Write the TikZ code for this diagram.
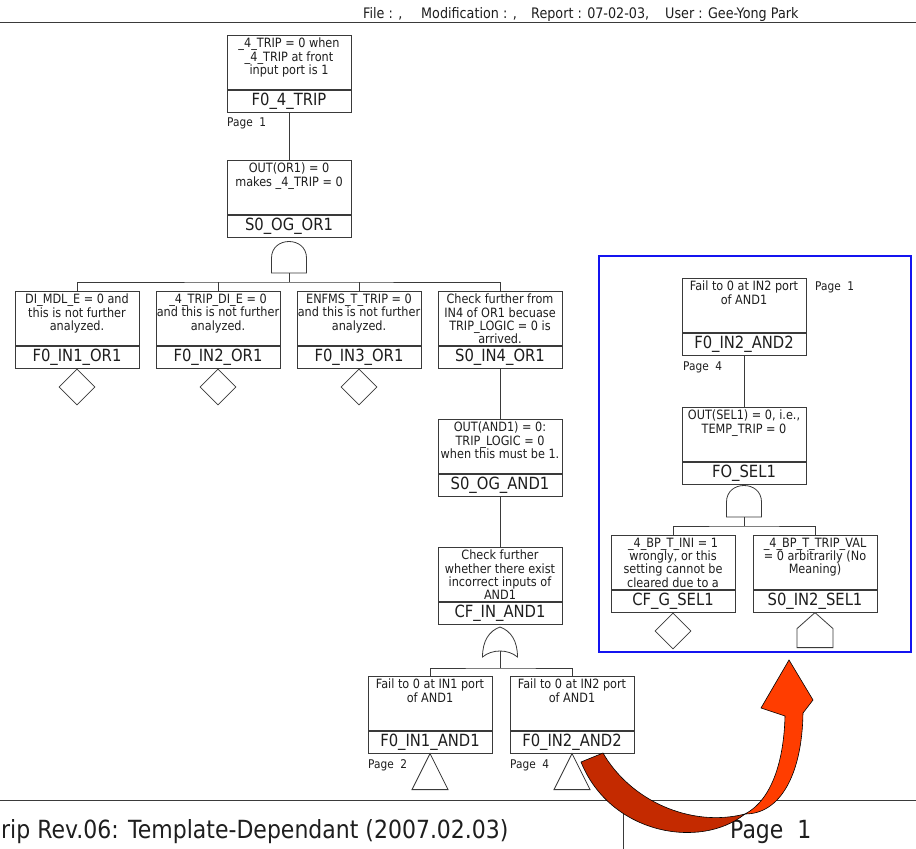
\documentclass[tikz,border=0pt]{standalone}
\usepackage{fontspec}
\setmainfont{DejaVu Sans}[FakeStretch=0.88]
\usetikzlibrary{shapes.geometric}

\definecolor{ink}{HTML}{1E1E1E}
\definecolor{rulegray}{HTML}{3A3A3A}
\definecolor{panelblue}{HTML}{1414F0}
\definecolor{arrowdark}{HTML}{C42A00}
\definecolor{arrowlight}{HTML}{FF3D00}

\tikzset{
  desc/.style={anchor=north, align=center, inner sep=0pt, text=ink,
    font=\fontsize{12.8}{13.2}\selectfont},
  descframe/.style={anchor=north, draw=rulegray, line width=0.8pt,
    minimum width=124pt, minimum height=54pt, inner sep=0pt},
  idband/.style={anchor=north, draw=rulegray, line width=0.8pt, fill=white,
    minimum width=124pt, minimum height=22pt, inner sep=0pt, text=ink,
    font=\fontsize{16.8}{17}\selectfont},
  pagelbl/.style={anchor=west, inner sep=0pt, text=ink,
    font=\fontsize{12}{14}\selectfont},
  wire/.style={draw=rulegray, line width=0.8pt},
  gate/.style={draw=rulegray, line width=0.8pt, fill=white},
  undev/.style={diamond, draw=rulegray, line width=0.8pt, fill=white,
    minimum width=36pt, minimum height=36pt, inner sep=0pt, anchor=north},
  headtxt/.style={anchor=base west, inner sep=0pt, text=ink,
    font=\fontsize{14.5}{16}\selectfont},
  foottxt/.style={anchor=base west, inner sep=0pt, text=ink,
    font=\fontsize{25}{27}\selectfont},
}

% fault-tree event box: name, centre x, top y, description, identifier
\newcommand\faultbox[5]{%
  \node[desc] (#1-txt) at (#2,#3+3) {#4};
  \node[descframe] (#1) at (#2,#3) {};
  \node[idband] (#1-id) at (#1.south) {#5};
}

% AND gate: centre x, top y, bottom y
\newcommand\andgate[4]{%
  \draw[gate] (#2-17.5,#4) -- (#2-17.5,#3+17)
    .. controls (#2-17.5,#3-5) and (#2+17.5,#3-5) .. (#2+17.5,#3+17)
    -- (#2+17.5,#4) -- cycle;
  \coordinate (#1-out) at (#2,#4);
}

% OR gate: centre x, tip y, bottom y
\newcommand\orgate[4]{%
  \draw[gate] (#2-17.5,#4)
    .. controls (#2-17.5,#3+14) and (#2-11,#3+4) .. (#2,#3)
    .. controls (#2+11,#3+4) and (#2+17.5,#3+14) .. (#2+17.5,#4)
    .. controls (#2+8,#4-8) and (#2-8,#4-8) .. cycle;
  \coordinate (#1-out) at (#2,#4-6);
}

\begin{document}
\begin{tikzpicture}[x=1pt,y=-1pt]
\useasboundingbox (0,0) rectangle (916,849);
\fill[white] (0,0) rectangle (916,849);

% page header
\node[headtxt] (hfile) at (363,18) {File : ,};
\node[headtxt] (hmod) at (421,18) {Modification : ,};
\node[headtxt] (hrep) at (531,18) {Report : 07-02-03,};
\node[headtxt] (huser) at (665,18) {User : Gee-Yong Park};
\draw[wire] (0,22) -- (916,22);

% top event and OR1 output
\faultbox{trip}{289}{35}{\_4\_TRIP = 0 when\\\_4\_TRIP at front\\input port is 1}{F0\_4\_TRIP}
\node[pagelbl] (pg-trip) at (227,123) {Page~~1};
\faultbox{or1}{289}{160}{OUT(OR1) = 0\\makes \_4\_TRIP = 0}{S0\_OG\_OR1}
\draw[wire] (trip-id.south) -- (or1.north);

\andgate{g1}{289}{241}{273}
\coordinate (bus1) at (289,282);
\draw[wire] (g1-out) -- (bus1);

% OR1 inputs
\faultbox{in1}{77}{291}{DI\_MDL\_E = 0 and\\this is not further\\analyzed.}{F0\_IN1\_OR1}
\faultbox{in2}{218}{291}{\_4\_TRIP\_DI\_E = 0\\and this is not further\\analyzed.}{F0\_IN2\_OR1}
\faultbox{in3}{359}{291}{ENFMS\_T\_TRIP = 0\\and this is not further\\analyzed.}{F0\_IN3\_OR1}
\faultbox{in4}{500}{291}{Check further from\\IN4 of OR1 becuase\\TRIP\_LOGIC = 0 is\\arrived.}{S0\_IN4\_OR1}
\draw[wire] (in1.north) |- (bus1) -| (in4.north);
\draw[wire] (in2.north) -- (in2.north |- bus1);
\draw[wire] (in3.north) -- (in3.north |- bus1);
\node[undev] (in1-dia) at (in1-id.south) {};
\node[undev] (in2-dia) at (in2-id.south) {};
\node[undev] (in3-dia) at (in3-id.south) {};

% AND1 branch
\faultbox{and1}{500}{419}{OUT(AND1) = 0:\\TRIP\_LOGIC = 0\\when this must be 1.}{S0\_OG\_AND1}
\faultbox{cf}{500}{547}{Check further\\whether there exist\\incorrect inputs of\\AND1}{CF\_IN\_AND1}
\draw[wire] (in4-id.south) -- (and1.north);
\draw[wire] (and1-id.south) -- (cf.north);

\orgate{g2}{500}{627}{657}
\coordinate (bus2) at (500,668);
\draw[wire] (g2-out) -- (bus2);

\faultbox{ip1}{430}{676}{Fail to 0 at IN1 port\\of AND1}{F0\_IN1\_AND1}
\faultbox{ip2}{572}{676}{Fail to 0 at IN2 port\\of AND1}{F0\_IN2\_AND2}
\draw[wire] (ip1.north) |- (bus2) -| (ip2.north);
\draw[gate] (ip1-id.south) -- ++(18,36) -- ++(-36,0) -- cycle;
\draw[gate] (ip2-id.south) -- ++(18,36) -- ++(-36,0) -- cycle;
\node[pagelbl] (pg-ip1) at (368,765) {Page~~2};
\node[pagelbl] (pg-ip2) at (510,765) {Page~~4};

% continuation panel
\draw[panelblue, line width=2pt] (599,256) rectangle (911,652);
\faultbox{s1}{744}{278}{Fail to 0 at IN2 port\\of AND1}{F0\_IN2\_AND2}
\node[pagelbl] (pg-s1) at (815,287) {Page~~1};
\node[pagelbl] (pg-s1b) at (683,367) {Page~~4};
\faultbox{sel}{744}{407}{OUT(SEL1) = 0, i.e.,\\TEMP\_TRIP = 0}{FO\_SEL1}
\draw[wire] (s1-id.south) -- (sel.north);

\andgate{g3}{744}{485}{517}
\coordinate (bus3) at (744,526);
\draw[wire] (g3-out) -- (bus3);

\faultbox{sa}{673}{535}{\_4\_BP\_T\_INI = 1\\wrongly, or this\\setting cannot be\\cleared due to a}{CF\_G\_SEL1}
\faultbox{sb}{815}{535}{\_4\_BP\_T\_TRIP\_VAL\\= 0 arbitrarily (No\\Meaning)}{S0\_IN2\_SEL1}
\draw[wire] (sa.north) |- (bus3) -| (sb.north);
\node[undev] (sa-dia) at (sa-id.south) {};
\draw[gate] (sb-id.south) -- ++(18,16) -- ++(0,19) -- ++(-36,0) -- ++(0,-19) -- cycle;

% page footer
\draw[wire] (0,800) -- (916,800);
\draw[wire] (623,800) -- (623,849);
\node[foottxt] (ftitle) at (1,838) {rip Rev.06: Template-Dependant (2007.02.03)};
\node[foottxt] (fpage) at (730,838) {Page~~1};

% curved pointer to the continuation panel
\draw[fill=arrowdark, draw=black, line width=0.6pt]
  (581,762) -- (603,753)
  .. controls (630,800) and (690,828) .. (745,814)
  .. controls (700,850) and (610,834) .. (581,762) -- cycle;
\draw[fill=arrowlight, draw=black, line width=0.6pt]
  (745,814) .. controls (772,800) and (784,760) .. (785,716)
  -- (761,708) -- (789,660) -- (813,700) -- (803,713)
  .. controls (802,775) and (780,814) .. (745,814) -- cycle;
\end{tikzpicture}
\end{document}
